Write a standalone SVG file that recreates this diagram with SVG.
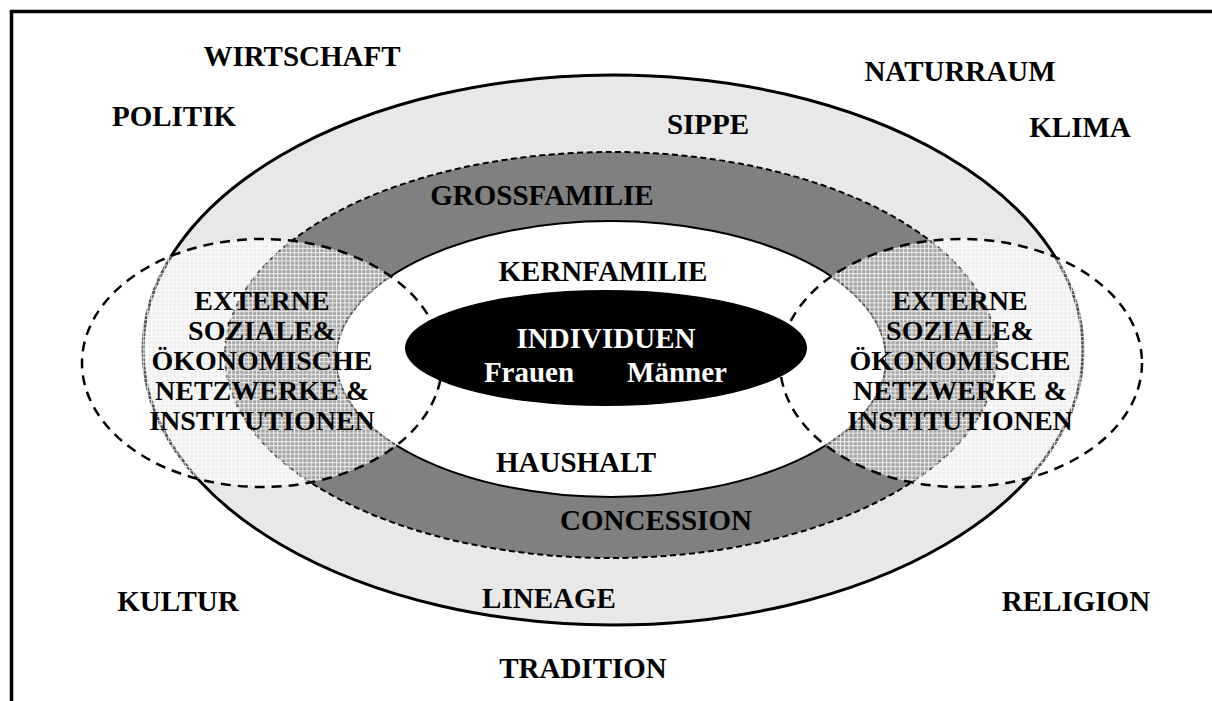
<svg xmlns="http://www.w3.org/2000/svg" width="1212" height="701" viewBox="0 0 1212 701">
  <style>
    .lbl { font-family: "Liberation Serif", "Times New Roman", serif; font-weight: bold; font-size: 29px; fill: #000; text-anchor: middle; }
    .ext { font-size: 28px; }
    .inv { fill: #fff; }
    .net { fill: url(#grid); stroke: #000; stroke-width: 2.5; stroke-dasharray: 10 7; }
  </style>
  <defs>
    <!-- translucent white grid laid over the network ellipses -->
    <pattern id="grid" width="4.2" height="4.2" patternUnits="userSpaceOnUse">
      <rect width="4.2" height="4.2" fill="#fff" fill-opacity="0.3"/>
      <path d="M0,0.5 H4.2 M0.5,0 V4.2" stroke="#fff" stroke-opacity="0.8" stroke-width="1"/>
    </pattern>
  </defs>

  <!-- frame -->
  <path d="M11.5,701 V11.5 H1212" fill="none" stroke="#000" stroke-width="3.5"/>

  <!-- Sippe / Lineage ring -->
  <g id="sippe">
    <ellipse cx="613" cy="350" rx="470" ry="275" fill="#e8e8e8" stroke="#000" stroke-width="3"/>
  </g>

  <!-- Grossfamilie / Concession ring -->
  <g id="grossfamilie">
    <ellipse cx="611" cy="355" rx="386" ry="203" fill="#808080" stroke="#000" stroke-width="2" stroke-dasharray="6 3.5"/>
  </g>

  <!-- Kernfamilie / Haushalt -->
  <g id="kernfamilie">
    <ellipse cx="611" cy="359" rx="275" ry="138" fill="#fff" stroke="#000" stroke-width="2"/>
  </g>

  <!-- external networks -->
  <g id="netzwerk-links">
    <ellipse class="net" cx="262" cy="363" rx="180" ry="124"/>
  </g>
  <g id="netzwerk-rechts">
    <ellipse class="net" cx="961" cy="363" rx="181" ry="124"/>
  </g>

  <!-- individuals -->
  <g id="individuen">
    <ellipse cx="606" cy="348" rx="201" ry="58" fill="#000"/>
    <text class="lbl inv" x="606" y="348">INDIVIDUEN</text>
    <text class="lbl inv" x="529" y="382">Frauen</text>
    <text class="lbl inv" x="677" y="382">Männer</text>
  </g>

  <!-- ring labels -->
  <g id="ring-labels">
    <text class="lbl" x="708" y="134">SIPPE</text>
    <text class="lbl" x="542" y="205">GROSSFAMILIE</text>
    <text class="lbl" x="603" y="281">KERNFAMILIE</text>
    <text class="lbl" x="576" y="472">HAUSHALT</text>
    <text class="lbl" x="656" y="530">CONCESSION</text>
    <text class="lbl" x="549" y="608">LINEAGE</text>
  </g>

  <!-- network labels -->
  <g id="netzwerk-labels">
    <text class="lbl ext" x="262" y="310">EXTERNE</text>
    <text class="lbl ext" x="262" y="340">SOZIALE&amp;</text>
    <text class="lbl ext" x="262" y="370">ÖKONOMISCHE</text>
    <text class="lbl ext" x="262" y="400">NETZWERKE &amp;</text>
    <text class="lbl ext" x="262" y="430">INSTITUTIONEN</text>
    <text class="lbl ext" x="960" y="310">EXTERNE</text>
    <text class="lbl ext" x="960" y="340">SOZIALE&amp;</text>
    <text class="lbl ext" x="960" y="370">ÖKONOMISCHE</text>
    <text class="lbl ext" x="960" y="400">NETZWERKE &amp;</text>
    <text class="lbl ext" x="960" y="430">INSTITUTIONEN</text>
  </g>

  <!-- surrounding factors -->
  <g id="umfeld">
    <text class="lbl" x="302" y="66">WIRTSCHAFT</text>
    <text class="lbl" x="174" y="126">POLITIK</text>
    <text class="lbl" x="960" y="81">NATURRAUM</text>
    <text class="lbl" x="1080" y="137">KLIMA</text>
    <text class="lbl" x="178" y="611">KULTUR</text>
    <text class="lbl" x="1076" y="611">RELIGION</text>
    <text class="lbl" x="583" y="678">TRADITION</text>
  </g>
</svg>
